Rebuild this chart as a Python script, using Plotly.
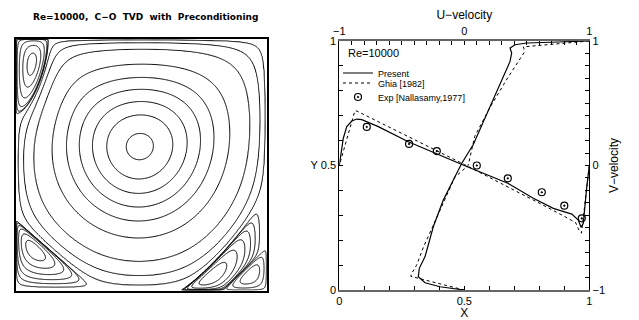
import numpy as np
import plotly.graph_objects as go

# ---------------- Right panel data ----------------
ghia_y = [1.0000, 0.9766, 0.9688, 0.9609, 0.9531, 0.8516, 0.7344, 0.6172, 0.5000,
          0.4531, 0.2813, 0.1719, 0.1016, 0.0703, 0.0625, 0.0547, 0.0000]
ghia_u = [1.00000, 0.47221, 0.47783, 0.48070, 0.47804, 0.34635, 0.20673, 0.08344,
          0.03111, -0.07540, -0.23186, -0.32709, -0.38000, -0.41657, -0.42537, -0.42735, 0.0]
ghia_x = [1.0000, 0.9688, 0.9609, 0.9531, 0.9453, 0.9063, 0.8594, 0.8047, 0.5000,
          0.2344, 0.2266, 0.1563, 0.0938, 0.0781, 0.0703, 0.0625, 0.0000]
ghia_v = [0.0, -0.54302, -0.52987, -0.49099, -0.45863, -0.41496, -0.36737, -0.30719,
          0.00831, 0.27224, 0.28003, 0.35070, 0.41487, 0.43124, 0.43733, 0.43983, 0.0]

present_y = [0.0, 0.013, 0.029, 0.053, 0.087, 0.134, 0.254, 0.361, 0.442, 0.509, 0.584,
             0.704, 0.824, 0.918, 0.952, 0.972, 0.985, 0.992, 0.996, 1.0]
present_u = [0.0, -0.194, -0.314, -0.368, -0.360, -0.314, -0.248, -0.168, -0.088, -0.020,
             0.072, 0.179, 0.286, 0.366, 0.379, 0.366, 0.406, 0.500, 0.750, 1.0]

present_x = [0.0, 0.016, 0.030, 0.050, 0.070, 0.090, 0.156, 0.276, 0.500, 0.674, 0.776,
             0.856, 0.930, 0.956, 0.967, 0.976, 0.990, 1.0]
present_v = [0.0, 0.219, 0.312, 0.357, 0.373, 0.368, 0.312, 0.191, 0.0, -0.143, -0.263,
             -0.344, -0.390, -0.438, -0.496, -0.464, -0.170, 0.0]

exp_x = [0.110, 0.279, 0.390, 0.550, 0.674, 0.810, 0.900, 0.970]
exp_v = [0.310, 0.173, 0.116, 0.000, -0.103, -0.215, -0.323, -0.424]

x_ticks = [round(0.1 * i, 1) for i in range(11)]
x_ticktext = ['0', '', '', '', '', '0.5', '', '', '', '', '1']
y_ticktext = ['0', '', '', '', '', 'Y 0.5', '', '', '', '', '1']
uv_ticks = [round(-1 + 0.1 * i, 1) for i in range(21)]
uv_ticktext = ['\u22121'] + [''] * 9 + ['0'] + [''] * 9 + ['1']

# ---------------- Left panel model parameters ----------------
vortex_center = [0.512, 0.536]          # primary vortex centre
primary_h_levels = [0.12, 0.25, 0.36, 0.45, 0.54, 0.63, 0.72, 0.82, 0.93, 0.975, 0.994]

corner_names = ['TL', 'BL', 'BR', 'BRt']
corner_x0 = [0.0, 0.0, 1.0, 1.0]
corner_y0 = [1.0, 0.0, 0.0, 0.0]
corner_ax = [0.13, 0.32, 0.347, 0.174]
corner_by = [0.30, 0.28, 0.40, 0.173]
corner_p = [1.6, 1.0, 0.85, 1.0]
eye_x = [0.063, 0.073, 0.786, 0.935]
eye_y = [0.902, 0.160, 0.056, 0.060]
corner_levels = [
    [0.004, 0.03, 0.12, 0.35, 0.65, 0.9],
    [0.004, 0.03, 0.1, 0.25, 0.5, 0.8],
    [0.004, 0.02, 0.06, 0.15, 0.35, 0.7],
    [0.03, 0.25, 0.65],
]
mask_width = 0.7

def to_index(field, levels):
    lv = list(levels)
    top = max(float(field.max()), lv[-1]) + 1e-3
    xp = [0.0] + lv + [top]
    fp = [0.0] + list(range(1, len(lv) + 1)) + [len(lv) + 0.5]
    return np.round(np.interp(field, xp, fp), 4)

def corner_t(X, Y, k):
    u = np.abs(X - corner_x0[k]) / corner_ax[k]
    v = np.abs(Y - corner_y0[k]) / corner_by[k]
    p = corner_p[k]
    return u, v, u ** p + v ** p

def mask(X, Y, k, w):
    _, _, t = corner_t(X, Y, k)
    return 1.0 - np.exp(-np.clip(t - 1.0, 0, None) / w)

def corner_field(X, Y, k):
    u, v, t = corner_t(X, Y, k)
    p = corner_p[k]
    u0 = abs(eye_x[k] - corner_x0[k]) / corner_ax[k]
    v0 = abs(eye_y[k] - corner_y0[k]) / corner_by[k]
    t0 = u0 ** p + v0 ** p
    a = p * u0 ** p / (1 - t0)
    b = p * v0 ** p / (1 - t0)
    return np.clip(1 - t, 0, None) * (u ** a) * (v ** b)

fig = go.Figure()

# ---------------- Right panel traces ----------------
fig.add_trace(go.Scatter(x=[], y=[], mode='lines', showlegend=False, xaxis='x', yaxis='y',
                         hoverinfo='skip'))
fig.add_trace(go.Scatter(x=present_x, y=present_v, mode='lines', name='Present',
                         line=dict(color='black', width=1.2), legend='legend',
                         xaxis='x', yaxis='y2', hoverinfo='skip'))
fig.add_trace(go.Scatter(x=ghia_x, y=ghia_v, mode='lines', name='Ghia [1982]',
                         line=dict(color='black', width=1, dash='dot'), legend='legend2',
                         xaxis='x', yaxis='y2', hoverinfo='skip'))
fig.add_trace(go.Scatter(x=exp_x, y=exp_v, mode='markers', name='Exp [Nallasamy,1977]',
                         marker=dict(symbol='circle-open-dot', size=7, color='black',
                                     line=dict(width=1.2, color='black')), legend='legend3',
                         xaxis='x', yaxis='y2', hoverinfo='skip'))
fig.add_trace(go.Scatter(x=present_u, y=present_y, mode='lines', name='Present',
                         line=dict(color='black', width=1.2), showlegend=False,
                         xaxis='x2', yaxis='y', hoverinfo='skip'))
fig.add_trace(go.Scatter(x=ghia_u, y=ghia_y, mode='lines', name='Ghia [1982]',
                         line=dict(color='black', width=1, dash='dot'), showlegend=False,
                         xaxis='x2', yaxis='y', hoverinfo='skip'))

# ---------------- Left panel: streamlines ----------------
N = 261
gx = np.linspace(0, 1, N)
gy = np.linspace(0, 1, N)
GX, GY = np.meshgrid(gx, gy)
px = np.log(0.5) / np.log(vortex_center[0])
py = np.log(0.5) / np.log(vortex_center[1])
S = np.sin(np.pi * GX ** px) * np.sin(np.pi * GY ** py)
M = np.ones_like(S)
for k in range(3):
    M *= mask(GX, GY, k, mask_width)
g = np.clip(S * M, 0, None)
g_levels = sorted([1 - h * h for h in primary_h_levels])
fig.add_trace(go.Contour(
    x=np.round(gx, 4), y=np.round(gy, 4), z=to_index(g, g_levels),
    contours=dict(start=1, end=len(g_levels), size=1, coloring='none'),
    line=dict(color='black', width=1, smoothing=1), showscale=False,
    hoverinfo='skip', showlegend=False, xaxis='x3', yaxis='y3'))

Nc = 161
for k in range(4):
    xa = sorted([corner_x0[k], corner_x0[k] + (1 if corner_x0[k] == 0 else -1) * corner_ax[k]])
    ya = sorted([corner_y0[k], corner_y0[k] + (1 if corner_y0[k] == 0 else -1) * corner_by[k]])
    cx = np.linspace(xa[0], xa[1], Nc)
    cy = np.linspace(ya[0], ya[1], Nc)
    CX, CY = np.meshgrid(cx, cy)
    q = corner_field(CX, CY, k)
    if corner_names[k] == 'BR':
        q = q * mask(CX, CY, 3, 0.25)
    q = q / q.max()
    lv = corner_levels[k]
    fig.add_trace(go.Contour(
        x=np.round(cx, 5), y=np.round(cy, 5), z=to_index(q, lv),
        contours=dict(start=1, end=len(lv), size=1, coloring='none'),
        line=dict(color='black', width=1, smoothing=1), showscale=False,
        hoverinfo='skip', showlegend=False, xaxis='x3', yaxis='y3'))

# The page body has an 8 px default margin; build the figure to fit inside it.
FONT = 'Liberation Sans, Arial, sans-serif'
OFF = 8
W, H = 639 - OFF, 320 - OFF

def fx(p):
    return (p - OFF) / W

def fy(p):
    return 1 - (p - OFF) / H

rx0, rx1, ry0, ry1 = fx(339.3), fx(589.3), fy(290), fy(41)
lx0, lx1, ly0, ly1 = fx(16), fx(267), fy(290.5), fy(39)

axis_common = dict(ticks='inside', ticklen=4, tickwidth=1, tickcolor='black',
                   showgrid=False, zeroline=False, automargin=False,
                   tickfont=dict(size=11, color='black'))

def leg(ypix):
    return dict(x=fx(338), y=fy(ypix), xanchor='left', yanchor='middle',
                bgcolor='rgba(0,0,0,0)', font=dict(size=9, family=FONT, color='black'),
                itemwidth=30, borderwidth=0)

fig.update_layout(
    width=W, height=H, margin=dict(l=0, r=0, t=0, b=0, autoexpand=False),
    paper_bgcolor='white', plot_bgcolor='white',
    font=dict(family=FONT, color='black'),
    xaxis=dict(domain=[rx0, rx1], range=[0, 1], anchor='y', tickmode='array',
               tickvals=x_ticks, ticktext=x_ticktext, showline=True, linecolor='#666',
               linewidth=2, title=dict(text='X', font=dict(size=12), standoff=0), **axis_common),
    yaxis=dict(domain=[ry0, ry1], range=[0, 1], anchor='x', tickmode='array',
               tickvals=x_ticks, ticktext=y_ticktext, showline=True, linecolor='black',
               linewidth=1, **axis_common),
    xaxis2=dict(overlaying='x', side='top', range=[-1, 1], anchor='y', tickmode='array',
                tickvals=uv_ticks, ticktext=uv_ticktext, showline=True, linecolor='#666',
                linewidth=2, title=dict(text='U\u2212velocity', font=dict(size=12), standoff=4),
                **axis_common),
    yaxis2=dict(overlaying='y', side='right', range=[-1, 1], anchor='x', tickmode='array',
                tickvals=uv_ticks, ticktext=uv_ticktext, showline=True, linecolor='black',
                linewidth=1, title=dict(text='V\u2212velocity', font=dict(size=12), standoff=5),
                **axis_common),
    xaxis3=dict(domain=[lx0, lx1], range=[0, 1], anchor='y3', showline=True, mirror=True,
                linecolor='black', linewidth=1.5, showticklabels=False, ticks='',
                showgrid=False, zeroline=False, automargin=False),
    yaxis3=dict(domain=[ly0, ly1], range=[0, 1], anchor='x3', showline=True, mirror=True,
                linecolor='black', linewidth=1.5, showticklabels=False, ticks='',
                showgrid=False, zeroline=False, automargin=False),
    legend=leg(73), legend2=leg(83), legend3=leg(97),
    annotations=[
        dict(text='Re=10000', x=fx(346), y=fy(53), xref='paper', yref='paper',
             xanchor='left', yanchor='middle', showarrow=False, font=dict(size=11)),
        dict(text='<b>Re=10000,\u00a0 C\u2212O\u00a0 TVD\u00a0 with\u00a0 Preconditioning</b>',
             x=fx(145), y=fy(17), xref='paper', yref='paper', xanchor='center',
             yanchor='middle', showarrow=False,
             font=dict(size=9, family='DejaVu Sans, sans-serif')),
    ],
)

fig.write_html('out.html')
